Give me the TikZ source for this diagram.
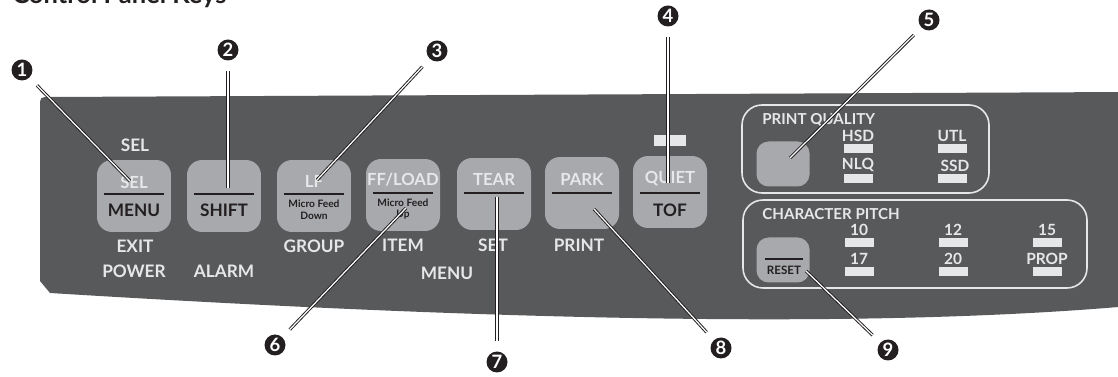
\documentclass[tikz,border=0pt]{standalone}
\usepackage{fontspec}
\setmainfont{Lato}
\usetikzlibrary{positioning}
\definecolor{panelgrey}{HTML}{58595B}
\definecolor{keygrey}{HTML}{A7A9AC}
\definecolor{lightgrey}{HTML}{E6E7E8}
\definecolor{inkblack}{HTML}{231F20}

\begin{document}
\begin{tikzpicture}[x=0.02cm,y=-0.02cm,
  key/.style={fill=keygrey,rounded corners=0.3cm,minimum width=1.48cm,minimum height=1.44cm,inner sep=0pt},
  smallkey/.style={fill=keygrey,rounded corners=0.24cm,minimum width=1.06cm,minimum height=0.9cm,inner sep=0pt},
  toplabel/.style={text=lightgrey,inner sep=0pt,font=\fontsize{9.5}{10}\selectfont\bfseries},
  botlabel/.style={text=inkblack,inner sep=0pt,font=\fontsize{9.8}{10}\selectfont\bfseries},
  microlabel/.style={text=inkblack,inner sep=0pt,align=center,font=\fontsize{5.8}{6.6}\selectfont\bfseries},
  paneltext/.style={text=lightgrey,inner sep=0pt,font=\fontsize{9.8}{10}\selectfont\bfseries},
  boxtitle/.style={text=lightgrey,inner sep=0pt,anchor=west,font=\fontsize{8.6}{9}\selectfont\bfseries},
  modetext/.style={text=lightgrey,inner sep=0pt,font=\fontsize{8.8}{9}\selectfont\bfseries},
  lamp/.style={fill=lightgrey,minimum width=0.58cm,minimum height=0.18cm,inner sep=0pt},
  groupbox/.style={draw=lightgrey,line width=0.9pt,rounded corners=0.4cm},
  divline/.style={draw=inkblack,line width=1.3pt},
  callout/.style={circle,fill=inkblack,text=white,inner sep=0pt,minimum size=0.42cm,font=\fontsize{10.5}{10}\selectfont\bfseries},
  leader/.style={draw=inkblack,double=white,double distance=0.7pt,line width=0.55pt,shorten <=6pt}]
\useasboundingbox (0,0) rectangle (1118,377);

% title, cut by the top edge
\node[text=inkblack,inner sep=0pt,anchor=base west,font=\fontsize{14.5}{14}\selectfont\bfseries] (title) at (12,3.5) {Control Panel Keys};

% panel
\fill[panelgrey] (50,293) -- (40,281) -- (40,107) .. controls (40,97) .. (50,97) -- (1130,92) -- (1130,306)
  .. controls (880,328) and (520,322) .. (50,293) -- cycle;

% keys
\node[key] (selkey) at (134,196) {};
\node[toplabel] (seltop) at (134,182) {SEL};
\node[botlabel] (selbot) at (134,210) {MENU};
\node[key] (shiftkey) at (224,196) {};
\node[botlabel] (shiftbot) at (224,210) {SHIFT};
\node[key] (lfkey) at (314,196) {};
\node[toplabel] (lftop) at (314,181) {LF};
\node[microlabel] (lfbot) at (314,210) {Micro Feed\\Down};
\node[key] (ffkey) at (403,195) {};
\node[toplabel] (fftop) at (403,180) {FF/LOAD};
\node[microlabel] (ffbot) at (403,209) {Micro Feed\\Up};
\node[key] (tearkey) at (494,194) {};
\node[toplabel] (teartop) at (494,179) {TEAR};
\node[key] (parkkey) at (582,193) {};
\node[toplabel] (parktop) at (582,179) {PARK};
\node[key] (quietkey) at (670,192) {};
\node[toplabel] (quiettop) at (670,179) {QUIET};
\node[botlabel] (quietbot) at (670,210) {TOF};
\foreach \x/\y in {134/194,224/194,314/194,403/193,494/193,582/193,670/193}
  \draw[divline] (\x-30,\y) -- (\x+30,\y);
\node[lamp,minimum width=0.64cm,minimum height=0.22cm] (quietlamp) at (670,141) {};

% labels on the panel
\node[paneltext] (sellbl) at (135,145) {SEL};
\node[paneltext] (exit) at (135,246) {EXIT};
\node[paneltext] (power) at (134,271) {POWER};
\node[paneltext] (alarm) at (224,271) {ALARM};
\node[paneltext] (group) at (314,246) {GROUP};
\node[paneltext] (item) at (403,245) {ITEM};
\node[paneltext] (set) at (493,245) {SET};
\node[paneltext] (print) at (579,245) {PRINT};
\node[paneltext] (menu) at (447,273) {MENU};

% print quality
\draw[groupbox] (742,105) rectangle (989,193);
\node[boxtitle] (pq) at (762,120) {PRINT QUALITY};
\node[smallkey] (pqkey) at (783,164) {};
\node[lamp] (hsdlamp) at (858,148.5) {};
\node[lamp] (nlqlamp) at (858,179) {};
\node[lamp] (utllamp) at (952,148.5) {};
\node[lamp] (ssdlamp) at (952,179) {};
\node[modetext,above=0.04cm of hsdlamp] (hsd) {HSD};
\node[modetext,above=0.04cm of nlqlamp] (nlq) {NLQ};
\node[modetext,above=0.04cm of utllamp] (utl) {UTL};
\node[modetext,above=0.04cm of ssdlamp,xshift=0.06cm] (ssd) {SSD};

% character pitch
\draw[groupbox] (743,200) rectangle (1087,288);
\node[boxtitle] (cp) at (762,214) {CHARACTER PITCH};
\node[smallkey] (resetkey) at (783,260) {};
\node[text=inkblack,inner sep=0pt,font=\fontsize{6.6}{7}\selectfont\bfseries] (reset) at (784,270) {RESET};
\draw[divline,line width=1.1pt] (765,259) -- (803,259);
\node[lamp] (lamp10) at (859,243) {};
\node[lamp] (lamp17) at (859,272) {};
\node[lamp] (lamp12) at (953,243) {};
\node[lamp] (lamp20) at (953,272) {};
\node[lamp] (lamp15) at (1047,243) {};
\node[lamp] (lampprop) at (1047,272) {};
\node[modetext,above=0.04cm of lamp10] (p10) {10};
\node[modetext,above=0.04cm of lamp17] (p17) {17};
\node[modetext,above=0.04cm of lamp12] (p12) {12};
\node[modetext,above=0.04cm of lamp20] (p20) {20};
\node[modetext,above=0.04cm of lamp15] (p15) {15};
\node[modetext,above=0.04cm of lampprop] (pprop) {PROP};

% callouts
\node[callout] (n1) at (22,70) {1};
\node[callout] (n2) at (228,50) {2};
\node[callout] (n3) at (437,51) {3};
\node[callout] (n4) at (668,16) {4};
\node[callout] (n5) at (929,20) {5};
\node[callout] (n6) at (275,345) {6};
\node[callout] (n7) at (497,362) {7};
\node[callout] (n8) at (721,348) {8};
\node[callout] (n9) at (888,350) {9};
\coordinate (c1) at (130,181);
\coordinate (c2) at (228,188);
\coordinate (c3) at (317,180);
\coordinate (c4) at (668,183);
\coordinate (c5) at (790,158);
\coordinate (c6) at (406,208);
\coordinate (c7) at (497,197);
\coordinate (c8) at (594,209);
\coordinate (c9) at (806,271);
\foreach \i in {1,...,9}
  \draw[leader] (n\i) -- (c\i);
\end{tikzpicture}
\end{document}
